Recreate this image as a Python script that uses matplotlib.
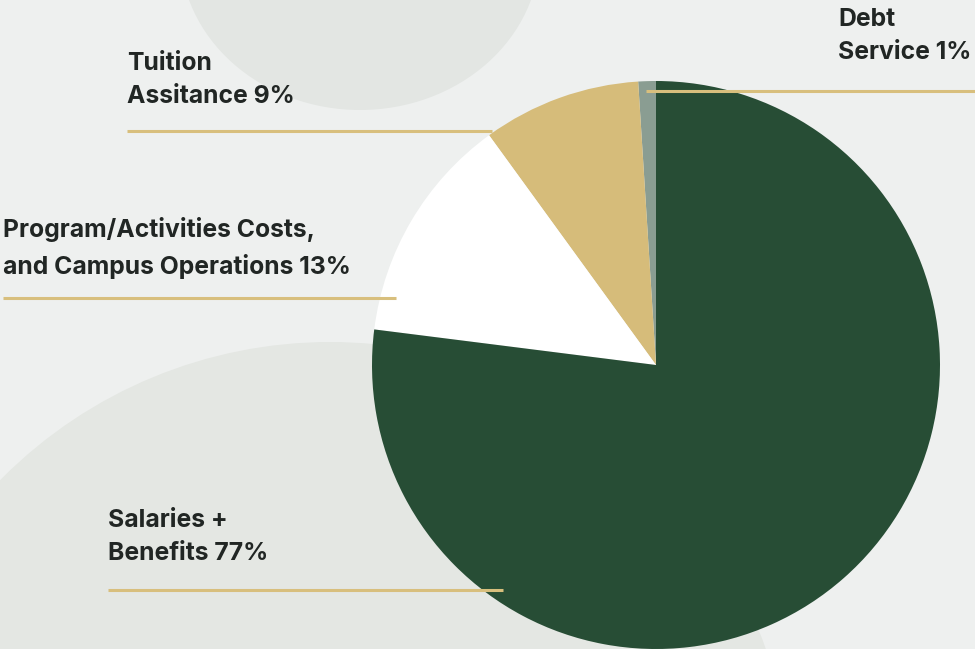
import matplotlib
matplotlib.use("Agg")
import matplotlib.pyplot as plt
from matplotlib.patches import Ellipse, Circle

labels = ["Debt\nService 1%", "Tuition\nAssitance 9%",
          "Program/Activities Costs,\nand Campus Operations 13%", "Salaries +\nBenefits 77%"]
values = [1, 9, 13, 77]
colors = ["#8a9d92", "#d6bc7a", "#ffffff", "#274d35"]

W, H = 975, 649
fig = plt.figure(figsize=(W/100, H/100), dpi=100)
fig.patch.set_facecolor("#eef0ef")
ax = fig.add_axes([0, 0, 1, 1])

def Y(y):
    return H - y

# background decorative shapes
ax.add_patch(Ellipse((360, Y(-50)), 360, 320, facecolor="#e3e6e3", edgecolor="none", zorder=0))
ax.add_patch(Circle((330, Y(805)), 463, facecolor="#e4e7e3", edgecolor="none", zorder=0))

cx, cy, r = 656, Y(365), 284
ax.pie(values, colors=colors, startangle=90, counterclock=True,
       center=(cx, cy), radius=r, wedgeprops=dict(linewidth=0), frame=True)
ax.set_xlim(0, W)
ax.set_ylim(0, H)
ax.set_aspect("equal")
ax.axis("off")

gold = "#d8bf7d"
# label positions (pixel coords, top-left of text) and leader lines
text_pos = [(838, 8), (127, 52), (3, 217), (108, 509)]
lines = [((646, 975), 91), ((127, 492), 131), ((3, 396), 298), ((108, 503), 590)]
for lab, (tx, ty), ((x0, x1), ly) in zip(labels, text_pos, lines):
    ax.text(tx, Y(ty), lab, ha="left", va="top", fontsize=17.8, fontweight="bold",
            family="Inter", color="#212624", linespacing=1.58, zorder=5)
    ax.plot([x0, x1], [Y(ly), Y(ly)], color=gold, lw=2.2, solid_capstyle="butt", zorder=4)

fig.savefig("out.png", dpi=100, facecolor=fig.get_facecolor())
